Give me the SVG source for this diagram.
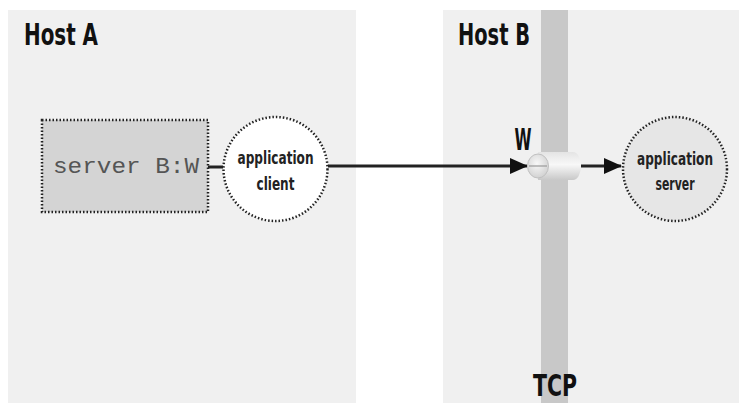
<svg xmlns="http://www.w3.org/2000/svg" width="739" height="403" viewBox="0 0 739 403">
<style>
.panel{fill:#f0f0f0}
.title{font-family:"DejaVu Sans Condensed","DejaVu Sans",sans-serif;font-weight:bold;font-size:30px;fill:#111}
.lbl{font-family:"DejaVu Sans Condensed","DejaVu Sans",sans-serif;font-weight:bold;font-size:18px;fill:#222;text-anchor:middle}
.dot{stroke:#222;stroke-width:2.5;stroke-dasharray:1.5 2}
.conn{stroke:#222;stroke-width:3;fill:none}
</style>
<defs>
<marker id="arr" markerWidth="18" markerHeight="16" refX="17" refY="8" orient="auto" markerUnits="userSpaceOnUse" viewBox="0 0 18 16">
<path d="M0,0 L18,8 L0,16 z" fill="#111"/>
</marker>
<linearGradient id="cyl" x1="0" y1="0" x2="0" y2="1">
<stop offset="0" stop-color="#e4e4e4"/>
<stop offset="0.45" stop-color="#f8f8f8"/>
<stop offset="1" stop-color="#c8c8c8"/>
</linearGradient>
<radialGradient id="end" cx="0.45" cy="0.4" r="0.6">
<stop offset="0" stop-color="#f8f8f8"/>
<stop offset="1" stop-color="#d2d2d2"/>
</radialGradient>
</defs>
<rect width="739" height="403" fill="#ffffff"/>
<g id="hostA">
<rect class="panel" x="8" y="10" width="348" height="393"/>
<text class="title" x="24" y="45" textLength="74" lengthAdjust="spacingAndGlyphs">Host A</text>
</g>
<g id="hostB">
<rect class="panel" x="443" y="10" width="296" height="393"/>
<text class="title" x="458" y="45" textLength="72" lengthAdjust="spacingAndGlyphs">Host B</text>
</g>
<g id="tcp">
<rect x="541" y="10" width="27" height="393" fill="#c8c8c8"/>
<text class="title" x="555" y="396" text-anchor="middle" font-size="32" textLength="44" lengthAdjust="spacingAndGlyphs">TCP</text>
</g>
<g id="connectors">
<line class="conn" x1="208" y1="167" x2="223" y2="167"/>
<line class="conn" x1="328" y1="166" x2="527" y2="166" marker-end="url(#arr)"/>
<line class="conn" x1="581" y1="166" x2="621" y2="166" marker-end="url(#arr)"/>
</g>
<g id="serverBW">
<rect class="dot" x="42" y="120" width="166" height="92" fill="#d4d4d4"/>
<text x="126" y="173" font-family="Liberation Mono, monospace" font-size="22" fill="#555" text-anchor="middle" textLength="146" lengthAdjust="spacingAndGlyphs">server B:W</text>
</g>
<g id="appClient">
<circle class="dot" cx="275.5" cy="169" r="52" fill="#ffffff"/>
<text class="lbl" x="275.5" y="164" textLength="76" lengthAdjust="spacingAndGlyphs">application</text>
<text class="lbl" x="275.5" y="190" textLength="38" lengthAdjust="spacingAndGlyphs">client</text>
</g>
<g id="port">
<text class="title" x="523" y="150" text-anchor="middle" font-size="20" textLength="17" lengthAdjust="spacingAndGlyphs">W</text>
<path d="M538,152 L573,152 A8,14 0 0 1 573,180 L538,180 z" fill="url(#cyl)"/>
<ellipse cx="538" cy="166" rx="10.5" ry="12" fill="url(#end)" stroke="#c0c0c0" stroke-width="1"/>
<line x1="529" y1="166" x2="547" y2="166" stroke="#999" stroke-width="1.2"/>
</g>
<g id="appServer">
<circle class="dot" cx="675" cy="169" r="52" fill="#e6e6e6"/>
<text class="lbl" x="675" y="165" textLength="76" lengthAdjust="spacingAndGlyphs">application</text>
<text class="lbl" x="675" y="190" textLength="39" lengthAdjust="spacingAndGlyphs">server</text>
</g>
</svg>
